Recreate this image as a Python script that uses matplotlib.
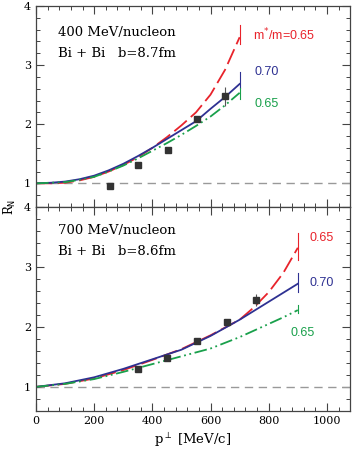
import matplotlib
matplotlib.use("Agg")
import matplotlib.pyplot as plt
import numpy as np
from matplotlib.ticker import MultipleLocator

# ---- data ----
# 400 MeV/nucleon, Bi+Bi b=8.7fm
pt_400 = [0, 50, 100, 150, 200, 250, 300, 350, 400, 450, 500, 550, 600, 650, 700]
red_400 = [1.0, 1.0, 1.01, 1.05, 1.11, 1.2, 1.31, 1.44, 1.6, 1.78, 1.98, 2.2, 2.5, 2.92, 3.47]
blue_400 = [1.0, 1.01, 1.03, 1.07, 1.13, 1.22, 1.33, 1.46, 1.6, 1.75, 1.9, 2.05, 2.26, 2.46, 2.68]
green_400 = [1.0, 1.01, 1.02, 1.06, 1.11, 1.2, 1.3, 1.42, 1.55, 1.68, 1.82, 1.97, 2.13, 2.32, 2.53]
exp_x_400 = [255, 352, 455, 555, 648]
exp_y_400 = [0.96, 1.31, 1.56, 2.08, 2.47]
exp_err_400 = [0, 0, 0, 0, 0.16]
endbar_400 = {"red": (3.35, 3.67), "blue": (2.62, 2.88), "green": (2.42, 2.62)}

# 700 MeV/nucleon, Bi+Bi b=8.6fm
pt_700 = [0, 100, 200, 300, 400, 500, 600, 700, 750, 800, 850, 900]
red_700 = [1.0, 1.05, 1.14, 1.28, 1.45, 1.63, 1.86, 2.12, 2.33, 2.58, 2.9, 3.32]
blue_700 = [1.0, 1.06, 1.16, 1.3, 1.46, 1.62, 1.85, 2.12, 2.27, 2.42, 2.57, 2.72]
green_700 = [1.0, 1.05, 1.13, 1.25, 1.38, 1.51, 1.64, 1.83, 1.94, 2.05, 2.16, 2.28]
exp_x_700 = [352, 452, 555, 655, 755]
exp_y_700 = [1.3, 1.48, 1.77, 2.08, 2.45]
exp_err_700 = [0, 0, 0, 0, 0.1]
endbar_700 = {"red": (3.12, 3.57), "blue": (2.58, 2.9), "green": (2.23, 2.37)}

RED = "#e8232b"
BLUE = "#2e3192"
GREEN = "#19a04b"

fig = plt.figure(figsize=(3.53, 4.51), dpi=100)
ax1 = fig.add_axes([0.102, 0.541, 0.89, 0.446])
ax2 = fig.add_axes([0.102, 0.089, 0.89, 0.452])

serif = "DejaVu Serif"


def panel(ax, x, red, blue, green, ex, ey, eerr, bars):
    ax.axhline(1.0, color="#999999", lw=1.0, dashes=(6, 4))
    ax.plot(x, red, color=RED, lw=1.3, dashes=(9, 3))
    ax.plot(x, blue, color=BLUE, lw=1.3)
    ax.plot(x, green, color=GREEN, lw=1.3, dashes=(7, 2, 1, 2, 1, 2))
    xe = x[-1]
    for col, key in [(RED, "red"), (BLUE, "blue"), (GREEN, "green")]:
        ax.plot([xe, xe], bars[key], color=col, lw=0.8)
    ax.errorbar(ex, ey, yerr=eerr, fmt="s", color="#333333", ms=5,
                ecolor="#555555", elinewidth=0.8, capsize=0)
    ax.set_xlim(0, 1080)
    ax.set_ylim(0.6, 4)
    ax.xaxis.set_major_locator(MultipleLocator(200))
    ax.xaxis.set_minor_locator(MultipleLocator(40))
    ax.yaxis.set_major_locator(MultipleLocator(1))
    ax.yaxis.set_minor_locator(MultipleLocator(0.2))
    ax.tick_params(which="both", direction="in", top=True, right=True,
                   labelsize=8, color="#444444")
    ax.tick_params(which="major", length=6, width=0.8)
    ax.tick_params(which="minor", length=3, width=0.7)
    for s in ax.spines.values():
        s.set_color("#444444")
        s.set_linewidth(0.9)
    for lab in ax.get_xticklabels() + ax.get_yticklabels():
        lab.set_fontfamily(serif)


panel(ax1, pt_400, red_400, blue_400, green_400,
      exp_x_400, exp_y_400, exp_err_400, endbar_400)
panel(ax2, pt_700, red_700, blue_700, green_700,
      exp_x_700, exp_y_700, exp_err_700, endbar_700)

ax1.tick_params(labelbottom=False)

ax1.text(75, 3.55, "400 MeV/nucleon", family=serif, fontsize=9.5, va="center")
ax1.text(75, 3.2, "Bi + Bi   b=8.7fm", family=serif, fontsize=9.5, va="center")
ax2.text(75, 3.6, "700 MeV/nucleon", family=serif, fontsize=9.5, va="center")
ax2.text(75, 3.25, "Bi + Bi   b=8.6fm", family=serif, fontsize=9.5, va="center")

ax1.text(745, 3.5, r"m$^{*}$/m=0.65", color=RED, fontsize=9, va="center",
         family="Liberation Sans")
ax1.text(750, 2.88, "0.70", color=BLUE, fontsize=9, va="center",
         family="Liberation Sans")
ax1.text(750, 2.34, "0.65", color=GREEN, fontsize=9, va="center",
         family="Liberation Sans")
ax2.text(940, 3.48, "0.65", color=RED, fontsize=9, va="center",
         family="Liberation Sans")
ax2.text(940, 2.73, "0.70", color=BLUE, fontsize=9, va="center",
         family="Liberation Sans")
ax2.text(876, 1.9, "0.65", color=GREEN, fontsize=9, va="center",
         family="Liberation Sans")

ax2.set_xlabel(r"p$^{\perp}$ [MeV/c]", family=serif, fontsize=9.5, labelpad=4)
fig.text(0.028, 0.541, r"R$_\mathrm{N}$", rotation=90, family=serif,
         fontsize=8.5, va="center", ha="center")

fig.savefig("out.png", dpi=100)
